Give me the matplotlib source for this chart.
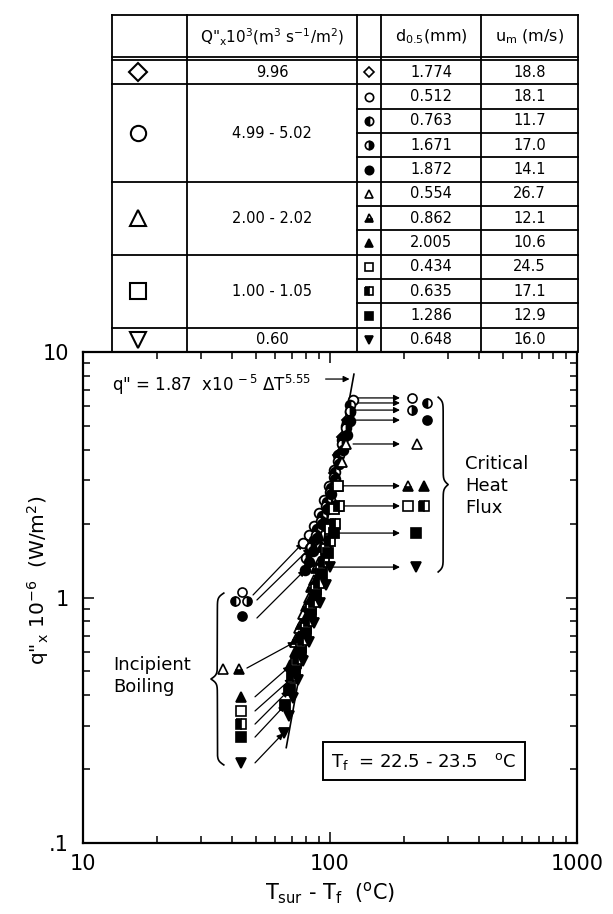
import numpy as np
import matplotlib
matplotlib.use('Agg')
import matplotlib.pyplot as plt

plt.rcParams['font.family'] = ['DejaVu Sans']
plt.rcParams['mathtext.default'] = 'regular'

# ---- table data ----
group_q = ['9.96', '4.99 - 5.02', '2.00 - 2.02', '1.00 - 1.05', '0.60']
group_size = [1, 4, 3, 3, 1]
group_marker = ['D', 'o', '^', 's', 'v']
d05 = ['1.774', '0.512', '0.763', '1.671', '1.872', '0.554', '0.862', '2.005',
       '0.434', '0.635', '1.286', '0.648']
um = ['18.8', '18.1', '11.7', '17.0', '14.1', '26.7', '12.1', '10.6',
      '24.5', '17.1', '12.9', '16.0']

# ---- boiling curve data (dT in C, q in MW/m2), one pair per d0.5 ----
dT_d1774 = [104, 108, 112, 117]
q_d1774 = [3.2, 3.8, 4.5, 5.3]
dT_c0512 = [78, 82, 86, 90, 95, 99, 104, 108, 112, 116, 120, 124]
q_c0512 = [1.67, 1.80, 1.95, 2.2, 2.5, 2.85, 3.3, 3.8, 4.4, 5.0, 5.7, 6.4]
dT_c0763 = [83, 86, 89, 93, 97, 101, 105, 109, 113, 117, 121]
q_c0763 = [1.59, 1.72, 1.9, 2.15, 2.45, 2.8, 3.25, 3.8, 4.45, 5.2, 6.1]
dT_c1671 = [80, 84, 88, 92, 96, 100, 104, 108, 112, 116, 120]
q_c1671 = [1.45, 1.6, 1.8, 2.05, 2.35, 2.7, 3.1, 3.6, 4.2, 4.9, 5.75]
dT_c1872 = [79, 82, 85, 89, 93, 97, 101, 105, 109, 113, 117, 121]
q_c1872 = [1.29, 1.4, 1.55, 1.75, 2.0, 2.3, 2.65, 3.05, 3.5, 4.0, 4.6, 5.25]
dT_t0554 = [72, 75, 78, 82, 86, 90, 94, 99, 104, 108, 112, 116]
q_t0554 = [0.66, 0.75, 0.86, 1.0, 1.18, 1.4, 1.65, 2.0, 2.45, 2.95, 3.55, 4.2]
dT_t0862 = [73, 76, 80, 84, 88, 93, 98, 103, 108]
q_t0862 = [0.68, 0.78, 0.92, 1.1, 1.32, 1.6, 1.95, 2.35, 2.85]
dT_t2005 = [69, 72, 75, 79, 83, 88, 93, 98, 103, 108]
q_t2005 = [0.53, 0.6, 0.7, 0.82, 0.98, 1.18, 1.42, 1.7, 2.0, 2.36]
dT_s0434 = [70, 73, 76, 80, 84, 88, 92, 96, 100, 104, 108]
q_s0434 = [0.47, 0.54, 0.63, 0.75, 0.9, 1.08, 1.3, 1.58, 1.9, 2.3, 2.85]
dT_s0635 = [68, 71, 74, 78, 82, 86, 90, 95, 100, 105, 109]
q_s0635 = [0.42, 0.48, 0.56, 0.67, 0.8, 0.96, 1.15, 1.4, 1.7, 2.0, 2.36]
dT_s1286 = [66, 69, 72, 76, 80, 84, 88, 93, 98, 104]
q_s1286 = [0.365, 0.42, 0.5, 0.6, 0.72, 0.86, 1.02, 1.25, 1.52, 1.83]
dT_v0648 = [65, 68, 71, 74, 78, 82, 86, 91, 96, 100]
q_v0648 = [0.28, 0.33, 0.39, 0.46, 0.55, 0.66, 0.79, 0.95, 1.12, 1.33]

# correlation q" = 1.87e-5 dT^5.55 (W/m2)
fit_c = 1.87e-5
fit_n = 5.55
fit_dT = [66.5, 125]

# critical heat flux markers (series 1..11) and arrows
chf_x = [215, 247, 215, 247, 225, 207, 240, 207, 240, 223, 223]
chf_q = [6.5, 6.2, 5.8, 5.28, 4.22, 2.85, 2.85, 2.36, 2.36, 1.83, 1.33]
chf_arrow_q = [6.5, 6.2, 5.8, 5.28, 4.22, 2.85, 2.36, 1.83, 1.33]
chf_arrow_x0 = [126, 126, 125, 127, 124, 112, 113, 107, 102]
chf_arrow_x1 = 192

# incipient boiling markers (series 1..11) and arrows
ib_x = [44.1, 41.2, 46.1, 44.1, 36.9, 42.8, 43.7, 43.7, 43.7, 43.7, 43.7]
ib_q = [1.053, 0.968, 0.968, 0.841, 0.511, 0.511, 0.394, 0.345, 0.305, 0.270, 0.212]
ib_arrow_x0 = [48.8, 50.6, 50.6, 46.1, 49.7, 49.7, 49.7, 49.7, 49.7]
ib_arrow_q0 = [1.024, 0.977, 0.825, 0.516, 0.394, 0.345, 0.305, 0.270, 0.212]
ib_arrow_x1 = [77.7, 83.0, 79.2, 72.1, 68.9, 70.0, 67.8, 65.8, 64.7]
ib_arrow_q1 = [1.667, 1.59, 1.294, 0.659, 0.526, 0.469, 0.417, 0.365, 0.280]

series_dT = [dT_d1774, dT_c0512, dT_c0763, dT_c1671, dT_c1872, dT_t0554, dT_t0862,
             dT_t2005, dT_s0434, dT_s0635, dT_s1286, dT_v0648]
series_q = [q_d1774, q_c0512, q_c0763, q_c1671, q_c1872, q_t0554, q_t0862,
            q_t2005, q_s0434, q_s0635, q_s1286, q_v0648]
styles = [('D', 'open'), ('o', 'open'), ('o', 'left'), ('o', 'right'), ('o', 'full'),
          ('^', 'open'), ('^', 'bottom'), ('^', 'full'),
          ('s', 'open'), ('s', 'left'), ('s', 'full'), ('v', 'full')]


def mstyle(m, f, ms, mew=1.2):
    kw = dict(marker=m, ms=ms * (0.8 if m == 'D' else 1.0), mec='k', mew=mew, linestyle='none')
    if f == 'open':
        kw.update(mfc='white')
    elif f == 'full':
        kw.update(mfc='k')
    else:
        kw.update(fillstyle=f, mfc='k', mfcalt='white')
    return kw


def brace(ax, x0, y0, y1, w, beta=80):
    t = np.linspace(0, 0.5, 200)
    h = 1 / (1 + np.exp(-beta * t)) + 1 / (1 + np.exp(-beta * (t - 0.5))) - 0.5
    prof = np.concatenate([h, h[-2::-1]])
    ys = np.linspace(y0, y1, len(prof))
    ax.plot(x0 + w * prof, ys, transform=ax.transAxes, color='k', lw=1.2, clip_on=False)


fig = plt.figure(figsize=(6.13, 9.14), dpi=100)

# ---------------- table ----------------
tab = fig.add_axes([112 / 613, 1 - 352 / 914, 466 / 613, 337 / 914])
tab.set_xlim(112, 578)
tab.set_ylim(352, 15)
tab.axis('off')
cols = [112, 187, 357, 381, 481, 578]
lk = dict(color='k', lw=1.3, clip_on=False)
tab.plot([112, 578], [15, 15], **lk)
tab.plot([112, 578], [57, 57], **lk)
tab.plot([112, 578], [60, 60], **lk)
for c in cols:
    tab.plot([c, c], [15, 352], **lk)
rh = (352 - 60) / 12
for i in range(1, 12):
    tab.plot([357, 578], [60 + i * rh, 60 + i * rh], **lk)
edges = np.cumsum(group_size)
for e in edges[:-1]:
    tab.plot([112, 357], [60 + e * rh, 60 + e * rh], **lk)

tab.text(272, 37, r'Q"$_x$10$^3$(m$^3$ s$^{-1}$/m$^2$)', ha='center', va='center', fontsize=11)
tab.text(431, 37, r'd$_{0.5}$(mm)', ha='center', va='center', fontsize=11.5)
tab.text(529.5, 37, r'u$_m$ (m/s)', ha='center', va='center', fontsize=11.5)

start = 0
for g in range(len(group_q)):
    yc = 60 + (start + group_size[g] / 2) * rh
    tab.plot([138], [yc], **mstyle(group_marker[g], 'open', 11, 1.5))
    tab.text(272, yc, group_q[g], ha='center', va='center', fontsize=10.5)
    start += group_size[g]
for i in range(len(d05)):
    yc = 60 + (i + 0.5) * rh
    m, f = styles[i]
    tab.plot([369], [yc], **mstyle(m, f, 6))
    tab.text(431, yc, d05[i], ha='center', va='center', fontsize=10.5)
    tab.text(529.5, yc, um[i], ha='center', va='center', fontsize=10.5)

# ---------------- main plot ----------------
ax = fig.add_axes([83 / 613, 1 - 843 / 914, 494 / 613, 491 / 914])
ax.set_xscale('log')
ax.set_yscale('log')
ax.set_xlim(10, 1000)
ax.set_ylim(0.1, 10)
for s in ax.spines.values():
    s.set_linewidth(1.6)
ax.tick_params(which='both', direction='in', top=True, right=True, width=1.1)
ax.tick_params(which='major', length=8, labelsize=15)
ax.tick_params(axis='y', which='major', pad=10)
ax.tick_params(axis='x', which='major', pad=8)
ax.tick_params(which='minor', length=5)
ax.set_xticks([10, 100, 1000], labels=['10', '100', '1000'])
ax.set_yticks([0.1, 1, 10], labels=['.1', '1', '10'])

xf = np.linspace(fit_dT[0], fit_dT[1], 50)
ax.plot(xf, fit_c * xf ** fit_n / 1e6, color='k', lw=1.2, zorder=2)

for i in range(len(series_dT)):
    m, f = styles[i]
    ax.plot(series_dT[i], series_q[i], zorder=3, **mstyle(m, f, 7, 1.3))

ap = dict(arrowstyle='-|>', color='k', lw=0.9, mutation_scale=9, shrinkA=0, shrinkB=0)
for i in range(len(chf_arrow_q)):
    ax.annotate('', xy=(chf_arrow_x1, chf_arrow_q[i]), xytext=(chf_arrow_x0[i], chf_arrow_q[i]),
                arrowprops=ap, zorder=2)
for i in range(len(chf_x)):
    m, f = styles[i + 1]
    ax.plot([chf_x[i]], [chf_q[i]], zorder=3, **mstyle(m, f, 6.5))
    ax.plot([ib_x[i]], [ib_q[i]], zorder=3, **mstyle(m, f, 6.5))
for i in range(len(ib_arrow_x0)):
    ax.annotate('', xy=(ib_arrow_x1[i], ib_arrow_q1[i]), xytext=(ib_arrow_x0[i], ib_arrow_q0[i]),
                arrowprops=ap, zorder=2)

# correlation label
ax.text(0.058, 0.933, r'q" = 1.87  x10$^{\,-5}$ $\Delta$T$^{5.55}$', transform=ax.transAxes,
        ha='left', va='center', fontsize=12)
ax.annotate('', xy=(120, 7.76), xytext=(96, 7.76), arrowprops=ap)

brace(ax, 0.719, 0.908, 0.552, 0.0202)
brace(ax, 0.285, 0.509, 0.159, -0.026)
ax.text(0.773, 0.727, 'Critical\nHeat\nFlux', transform=ax.transAxes, ha='left', va='center',
        fontsize=13, linespacing=1.3)
ax.text(0.062, 0.340, 'Incipient\nBoiling', transform=ax.transAxes, ha='left', va='center',
        fontsize=13, linespacing=1.3)
ax.text(0.690, 0.167, r'T$_f$  = 22.5 - 23.5   $^o$C', transform=ax.transAxes,
        ha='center', va='center', fontsize=13,
        bbox=dict(boxstyle='square,pad=0.45', fc='white', ec='k', lw=1.4))

fig.text(330 / 613, 1 - 893 / 914, r'T$_{sur}$ - T$_f$  ($^o$C)', ha='center', va='center', fontsize=15)
fig.text(38 / 613, 1 - 580 / 914, r'q"$_x$ 10$^{-6}$  (W/m$^2$)', ha='center', va='center',
         fontsize=14.5, rotation=90)

fig.savefig('out.png', dpi=100)
